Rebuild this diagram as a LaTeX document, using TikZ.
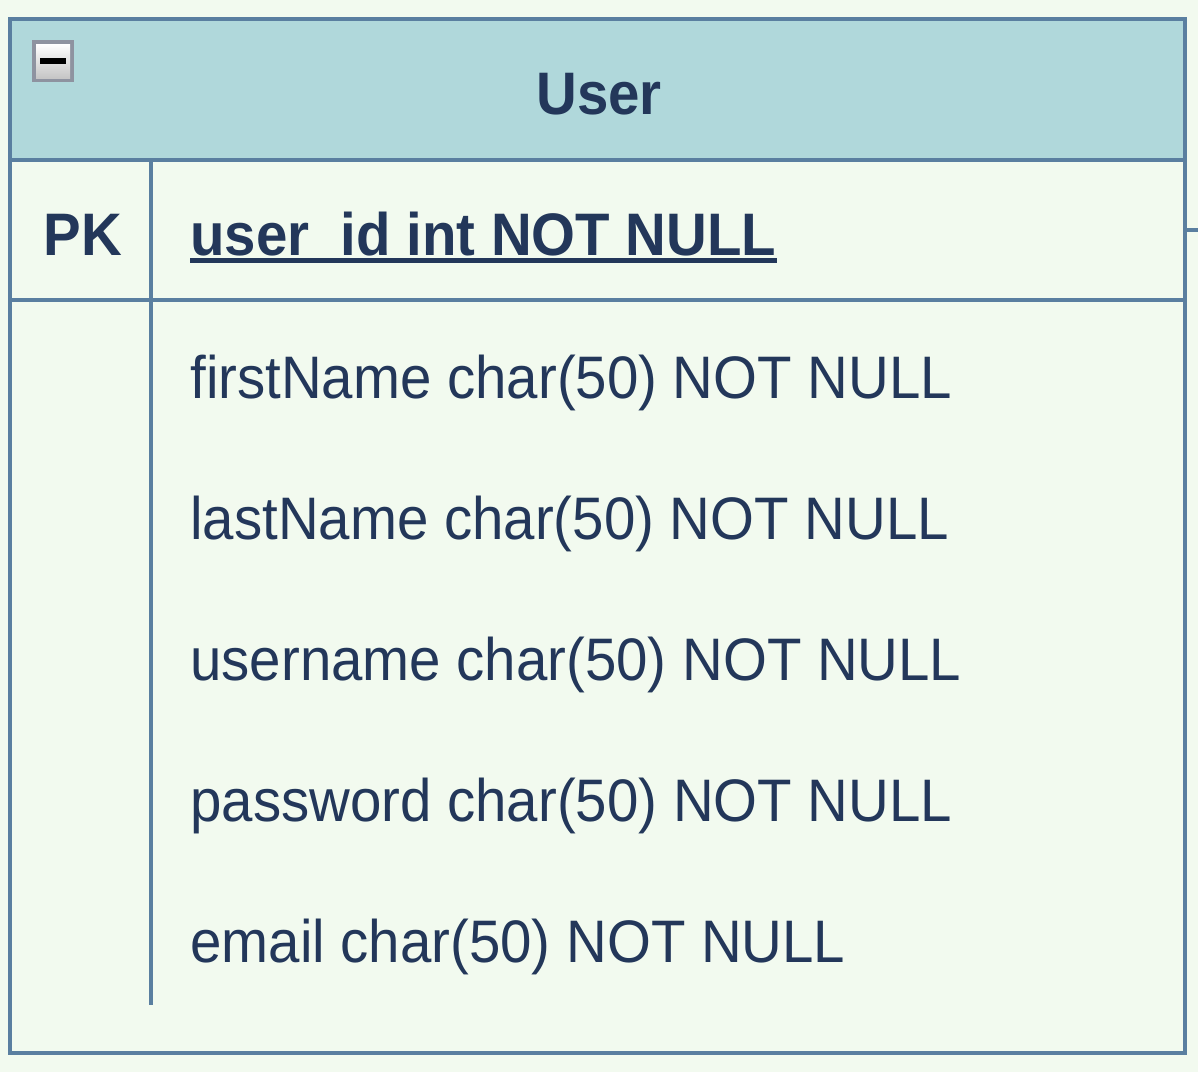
\documentclass[tikz,border=0pt]{standalone}
\usepackage{fontspec}
\setmainfont{Liberation Sans}[FakeStretch=0.94]
\usetikzlibrary{positioning}
\definecolor{bgcol}{HTML}{F2FAEF}
\definecolor{headcol}{HTML}{B0D8DB}
\definecolor{linecol}{HTML}{5A7FA0}
\definecolor{txtcol}{HTML}{23375A}
\definecolor{iconcol}{HTML}{8E93A0}
\tikzset{
  tabline/.style={draw=linecol, line width=2pt},
  fieldtxt/.style={anchor=base west, text=txtcol, inner sep=0pt, font=\fontsize{30}{36}\selectfont},
  keytxt/.style={fieldtxt, font=\fontsize{30}{36}\selectfont\bfseries},
}
\begin{document}
\begin{tikzpicture}[x=0.5pt,y=-0.5pt]
			\fill[bgcol] (0,0) rectangle (1198,1072);
			\useasboundingbox (0,0) rectangle (1198,1072);
			% table frame
			\fill[headcol] (10,19) rectangle (1185,160);
			\draw[tabline] (10,19) rectangle (1185,1053);
			\draw[tabline] (10,160) -- (1185,160);
			\draw[tabline] (10,300) -- (1185,300);
			\draw[tabline] (151,160) -- (151,1005);
			% collapse icon
			\fill[iconcol] (32,40) rectangle (74,82);
			\shade[top color=white, bottom color=gray!45] (36,44) rectangle (70,78);
			\fill[black] (40,58) rectangle (66,64);
			% texts
			\node[keytxt, anchor=base] (title) at (599,114) {User};
			\node[keytxt] (pk) at (43,255) {PK};
			\node[keytxt] (uid) at (190,255) {user\_id int NOT NULL};
			\draw[txtcol, line width=2.5pt] ([yshift=-2.8pt]uid.base west) -- ([yshift=-2.8pt]uid.base east);
			\foreach \i/\t in {1/firstName, 2/lastName, 3/username, 4/password, 5/email}
				\node[fieldtxt] (f\i) at (190,398+141*\i-141) {\t{} char(50) NOT NULL};
			% connector stub
			\coordinate (stub) at (1198,230);
			\draw[tabline] (1185,230) -- (stub);
		\end{tikzpicture}
\end{document}
